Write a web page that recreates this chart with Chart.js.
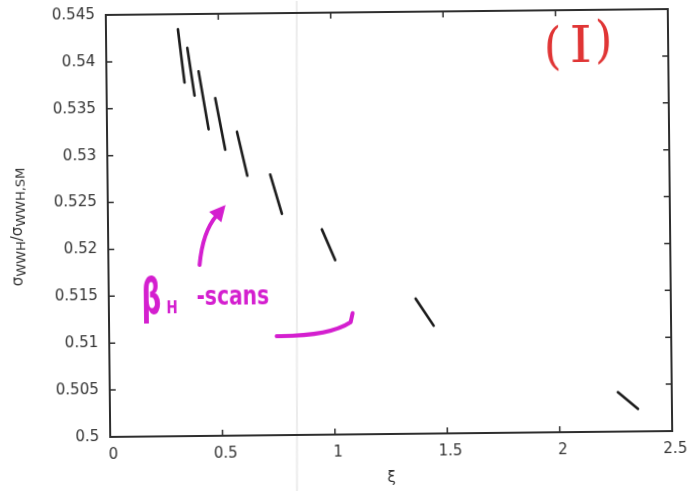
<!DOCTYPE html>
<html><head><meta charset="utf-8">
<script src="https://cdn.jsdelivr.net/npm/chart.js@4.4.1/dist/chart.umd.min.js"></script>
<style>
html,body{margin:0;padding:0;background:#fff;overflow:hidden}
#c{display:block;transform:rotate(-0.6deg);transform-origin:389px 223px}
</style>
</head><body>
<canvas id="c" width="689" height="491"></canvas>
<script>
// ---- data (each beta_H scan is a short line) ----
const scanXiStart    = [0.320, 0.361, 0.410, 0.483, 0.578, 0.724, 0.951, 1.365, 2.260];
const scanXiEnd      = [0.347, 0.391, 0.452, 0.525, 0.622, 0.774, 1.009, 1.444, 2.349];
const scanRatioStart = [0.5434, 0.5414, 0.5389, 0.5360, 0.5324, 0.5278, 0.5219, 0.5144, 0.5042];
const scanRatioEnd   = [0.5377, 0.5363, 0.5327, 0.5305, 0.5277, 0.5236, 0.5186, 0.5115, 0.5024];
const xTickValues = [0, 0.5, 1, 1.5, 2, 2.5];
const xTickLabels = ['0', '0.5', '1', '1.5', '2', '2.5'];
const yTickValues = [0.5, 0.505, 0.51, 0.515, 0.52, 0.525, 0.53, 0.535, 0.54, 0.545];
const yTickLabels = ['0.5', '0.505', '0.51', '0.515', '0.52', '0.525', '0.53', '0.535', '0.54', '0.545'];
const xTitle = 'ξ';
const annotationLabel = '(I)';
const scanLabelMain = 'β';
const scanLabelSub = 'H';
const scanLabelRest = '-scans';
const foldXi = 0.839; // faint scan fold line

const FONT = 'DejaVu Sans';
const TXT = '#333';
const MAGENTA = '#d41fcf';
const RED = '#e03535';

const datasets = scanXiStart.map((x0, i) => ({
  label: 'scan ' + (i + 1),
  data: [{x: x0, y: scanRatioStart[i]}, {x: scanXiEnd[i], y: scanRatioEnd[i]}],
  showLine: true,
  borderColor: '#1c1c1c',
  borderWidth: 2.6,
  pointRadius: 0,
  borderCapStyle: 'round'
}));

function scaledText(ctx, text, x, y, font, color, scaleX, align) {
  ctx.save();
  ctx.font = font;
  ctx.fillStyle = color;
  ctx.textAlign = align || 'left';
  ctx.textBaseline = 'alphabetic';
  ctx.translate(x, y);
  ctx.scale(scaleX, 1);
  ctx.fillText(text, 0, 0);
  ctx.restore();
}

const decor = {
  id: 'decor',
  beforeDraw(chart) {
    const ctx = chart.ctx, xs = chart.scales.x;
    const fx = xs.getPixelForValue(foldXi);
    ctx.save();
    ctx.fillStyle = '#fff';
    ctx.fillRect(-20, -20, chart.width + 40, chart.height + 40);
    ctx.strokeStyle = '#ececec';
    ctx.lineWidth = 2;
    ctx.beginPath(); ctx.moveTo(fx + 2.5, -10); ctx.lineTo(fx - 2.5, chart.height + 10); ctx.stroke();
    ctx.restore();
  },
  afterDatasetsDraw(chart) {
    const ctx = chart.ctx, a = chart.chartArea, xs = chart.scales.x, ys = chart.scales.y;
    const px = v => xs.getPixelForValue(v), py = v => ys.getPixelForValue(v);
    ctx.save();
    // frame
    ctx.strokeStyle = '#2e2e2e';
    ctx.lineWidth = 2;
    ctx.strokeRect(a.left, a.top, a.right - a.left, a.bottom - a.top);
    // inward ticks
    ctx.lineWidth = 1.5;
    const tl = 6;
    ctx.beginPath();
    yTickValues.forEach(v => { const y = py(v);
      ctx.moveTo(a.left, y); ctx.lineTo(a.left + tl, y);
      ctx.moveTo(a.right, y); ctx.lineTo(a.right - tl, y); });
    xTickValues.forEach(v => { const x = px(v);
      ctx.moveTo(x, a.bottom); ctx.lineTo(x, a.bottom - tl);
      ctx.moveTo(x, a.top); ctx.lineTo(x, a.top + tl); });
    ctx.stroke();
    ctx.restore();

    // y-axis title with subscripts, rotated
    ctx.save();
    const parts = [['σ', 15, 0], ['WWH', 13, 3], ['/σ', 15, 0], ['WWH,SM', 13, 3]];
    let total = 0;
    parts.forEach(p => { ctx.font = p[1] + 'px ' + FONT; total += ctx.measureText(p[0]).width; });
    ctx.translate(22, (a.top + a.bottom) / 2);
    ctx.rotate(-Math.PI / 2);
    ctx.fillStyle = TXT;
    ctx.textBaseline = 'alphabetic';
    let cx = -total / 2;
    parts.forEach(p => { ctx.font = p[1] + 'px ' + FONT; ctx.fillText(p[0], cx, p[2]); cx += ctx.measureText(p[0]).width; });
    ctx.restore();

    // red "(I)"
    const rf = '50px "DejaVu Serif"';
    scaledText(ctx, annotationLabel[0], px(1.986), py(0.54102) + 16, rf, RED, 0.9, 'center');
    scaledText(ctx, annotationLabel[1], px(2.111), py(0.54131) + 17, rf, RED, 1.15, 'center');
    scaledText(ctx, annotationLabel[2], px(2.213), py(0.54171) + 16, rf, RED, 0.9, 'center');

    // magenta beta_H-scans
    scaledText(ctx, scanLabelMain, px(0.190), py(0.51315), 'bold 50px ' + FONT, MAGENTA, 0.55, 'center');
    scaledText(ctx, scanLabelSub, px(0.256), py(0.51314), 'bold 18px ' + FONT, MAGENTA, 0.75, 'left');
    scaledText(ctx, scanLabelRest, px(0.390), py(0.5140), 'bold 26px ' + FONT, MAGENTA, 0.78, 'left');

    // arrows
    ctx.save();
    ctx.strokeStyle = MAGENTA; ctx.fillStyle = MAGENTA;
    ctx.lineWidth = 4; ctx.lineCap = 'round'; ctx.lineJoin = 'round';
    const t0 = [px(0.4055), py(0.51823)], c0 = [px(0.4204), py(0.52175)], tip = [px(0.524), py(0.52461)];
    let dx = tip[0] - c0[0], dy = tip[1] - c0[1]; const dl = Math.hypot(dx, dy); dx /= dl; dy /= dl;
    const base = [tip[0] - 16 * dx, tip[1] - 16 * dy];
    ctx.beginPath(); ctx.moveTo(t0[0], t0[1]); ctx.quadraticCurveTo(c0[0], c0[1], base[0] + 2 * dx, base[1] + 2 * dy); ctx.stroke();
    ctx.beginPath();
    ctx.moveTo(tip[0], tip[1]);
    ctx.lineTo(base[0] + 8 * dy, base[1] - 8 * dx);
    ctx.lineTo(base[0] - 8 * dy, base[1] + 8 * dx);
    ctx.closePath(); ctx.fill();
    // second curved arrow
    ctx.beginPath();
    ctx.moveTo(px(0.745), py(0.51056));
    ctx.quadraticCurveTo(px(0.9805), py(0.5105), px(1.0749), py(0.51197));
    ctx.lineTo(px(1.0839), py(0.51293));
    ctx.stroke();
    ctx.restore();
  }
};

new Chart(document.getElementById('c'), {
  type: 'scatter',
  data: { datasets },
  options: {
    responsive: false,
    animation: false,
    layout: { padding: { top: 12, right: 19, left: 0, bottom: 0 } },
    plugins: { legend: { display: false }, tooltip: { enabled: false } },
    scales: {
      x: {
        type: 'linear', min: 0, max: 2.5,
        afterBuildTicks: s => { s.ticks = xTickValues.map(v => ({value: v})); },
        afterFit: s => { s.height = 57; s.paddingLeft = 0; s.paddingRight = 0; },
        grid: { display: false, drawTicks: false },
        border: { display: false },
        ticks: { padding: 9, labelOffset: 3, color: TXT, font: { family: FONT, size: 15 },
                 callback: (v, i) => xTickLabels[i] },
        title: { display: true, text: xTitle, color: TXT, font: { family: FONT, size: 15 },
                 padding: { top: 0, bottom: 4 } }
      },
      y: {
        type: 'linear', min: 0.5, max: 0.545,
        afterBuildTicks: s => { s.ticks = yTickValues.map(v => ({value: v})); },
        afterFit: s => { s.width = 108; s.paddingTop = 0; s.paddingBottom = 0; },
        grid: { display: false, drawTicks: false },
        border: { display: false },
        ticks: { padding: 11, color: TXT, font: { family: FONT, size: 15 },
                 callback: (v, i) => yTickLabels[i] }
      }
    }
  },
  plugins: [decor]
});
</script>
</body></html>
